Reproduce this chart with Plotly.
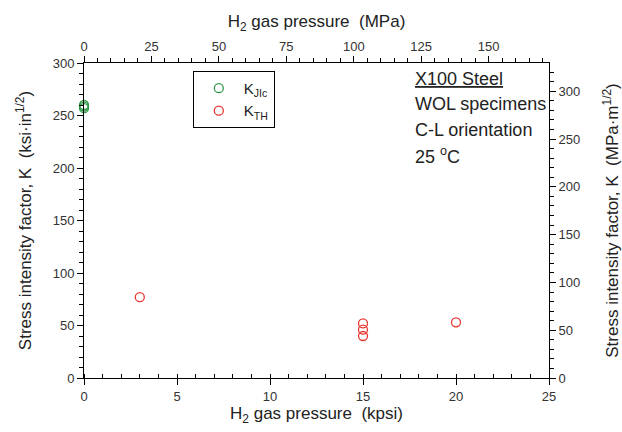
import plotly.graph_objects as go

# Data
kjic_x = [0, 0, 0]
kjic_y = [257, 258.5, 260]
kth_x = [3, 15, 15, 15, 20]
kth_y = [77, 52, 46, 40, 53]

KPSI_TO_MPA = 6.894757
KSI_TO_MPA = 1.0988

x_range = [0, 25]
y_range = [0, 300]

text_lines = ["<u>X100 Steel</u>", "WOL specimens", "C-L orientation", "25 <sup>o</sup>C"]

green = "#2f9a4a"
red = "#e8352e"
font = "Liberation Sans, Arial, sans-serif"
tick_col = "#333333"

fig = go.Figure()
fig.add_trace(go.Scatter(x=kjic_x, y=kjic_y, mode="markers", name="K<sub>JIc</sub>", cliponaxis=False,
                         marker=dict(symbol="circle-open", size=9, color=green, line=dict(width=1.3, color=green))))
fig.add_trace(go.Scatter(x=kth_x, y=kth_y, mode="markers", name="K<sub>TH</sub>", cliponaxis=False,
                         marker=dict(symbol="circle-open", size=9, color=red, line=dict(width=1.3, color=red))))
# invisible trace to anchor the secondary axes
fig.add_trace(go.Scatter(x=[0], y=[0], xaxis="x2", yaxis="y2", mode="markers",
                         marker=dict(opacity=0), showlegend=False, hoverinfo="skip"))

axis_common = dict(showgrid=False, zeroline=False, showline=True, linecolor="black", linewidth=1,
                   tickcolor="black", tickfont=dict(family=font, size=13, color=tick_col),
                   ticklen=6, tickwidth=1, mirror=False, automargin=False)

fig.update_layout(
    width=622, height=432,
    margin=dict(l=84, r=73, t=63, b=54),
    paper_bgcolor="white", plot_bgcolor="white",
    font=dict(family=font, color="#222222"),
    xaxis=dict(range=x_range, dtick=5, ticks="outside",
               minor=dict(dtick=1, ticks="inside", ticklen=4, tickcolor="black"),
               title=dict(text="H<sub>2</sub> gas pressure  (kpsi)", font=dict(size=17, color="#222222"), standoff=4),
               **axis_common),
    xaxis2=dict(range=[x_range[0] * KPSI_TO_MPA, x_range[1] * KPSI_TO_MPA], overlaying="x", side="top",
                tickvals=[0, 25, 50, 75, 100, 125, 150], ticks="outside",
                minor=dict(dtick=5, ticks="outside", ticklen=4, tickcolor="black"),
                title=dict(text="H<sub>2</sub> gas pressure  (MPa)", font=dict(size=17, color="#222222"), standoff=6),
                **axis_common),
    yaxis=dict(range=y_range, dtick=50, ticks="outside",
               minor=dict(dtick=10, ticks="outside", ticklen=4, tickcolor="black"),
               title=dict(text="Stress intensity factor, K  (ksi·in<sup>1/2</sup>)", font=dict(size=17, color="#222222"), standoff=16),
               **axis_common),
    yaxis2=dict(range=[y_range[0] * KSI_TO_MPA, y_range[1] * KSI_TO_MPA], overlaying="y", side="right",
                dtick=50, ticks="outside", anchor="x",
                minor=dict(dtick=10, ticks="outside", ticklen=4, tickcolor="black"),
                title=dict(text="Stress intensity factor, K  (MPa·m<sup>1/2</sup>)", font=dict(size=17, color="#222222"), standoff=30),
                **axis_common),
    legend=dict(x=0.234, y=0.975, xanchor="left", yanchor="top", bordercolor="black", borderwidth=1,
                bgcolor="white", font=dict(family=font, size=15, color="#222222"),
                tracegroupgap=6, itemwidth=40),
    showlegend=True,
)

for i, t in enumerate(text_lines):
    fig.add_annotation(x=0.707, y=0.95 - i * 0.081, xref="paper", yref="paper", text=t, showarrow=False,
                       xanchor="left", yanchor="middle", font=dict(family=font, size=18, color="#222222"))

fig.write_html("out.html")
